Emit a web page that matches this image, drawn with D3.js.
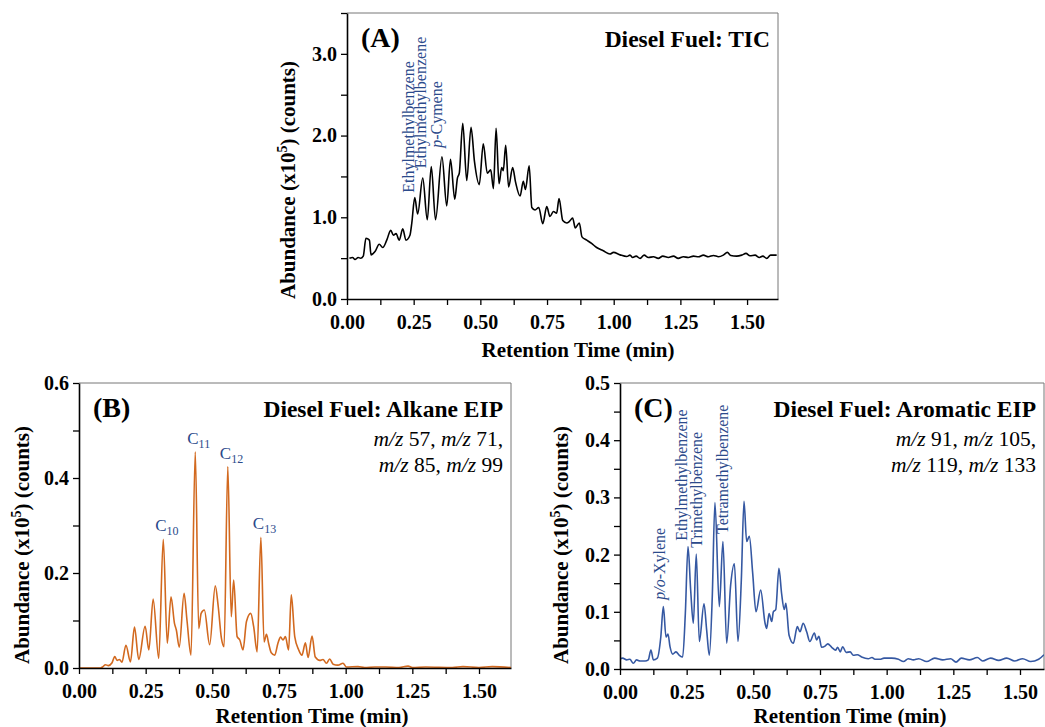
<!DOCTYPE html>
<html>
<head>
<meta charset="utf-8">
<script src="https://cdn.jsdelivr.net/npm/d3@7"></script>
<style>
	body { margin:0; background:#fff; }
	svg text { font-family: "Liberation Serif", "Times New Roman", serif; }
</style>
</head>
<body>
<svg id="chart" width="1045" height="727"></svg>
<script>

//------------------------------------------------------------------
// data (time in min, abundance in x10^5)
//------------------------------------------------------------------
var ticT = [0.009,0.021,0.030,0.042,0.051,0.061,0.071,0.084,0.090,0.105,0.121,0.134,0.149,0.164,0.174,0.184,0.196,0.209,0.221,0.236,0.243,0.254,0.265,0.284,0.301,0.316,0.332,0.356,0.374,0.388,0.404,0.414,0.421,0.434,0.449,0.465,0.478,0.496,0.511,0.526,0.539,0.549,0.559,0.570,0.580,0.586,0.595,0.606,0.621,0.632,0.649,0.661,0.669,0.683,0.693,0.705,0.719,0.734,0.749,0.761,0.774,0.786,0.795,0.809,0.824,0.834,0.846,0.856,0.871,0.881,0.899,0.917,0.936,0.961,0.986,0.999,1.024,1.049,1.061,1.071,1.084,1.099,1.114,1.130,1.149,1.167,1.184,1.205,1.224,1.242,1.261,1.280,1.299,1.318,1.336,1.355,1.374,1.393,1.411,1.426,1.439,1.461,1.480,1.496,1.511,1.530,1.546,1.559,1.574,1.588,1.611];
var ticV = [0.498,0.508,0.484,0.508,0.498,0.525,0.743,0.720,0.540,0.580,0.670,0.630,0.720,0.840,0.780,0.800,0.720,0.860,0.720,0.780,0.930,1.240,1.040,1.480,0.970,1.620,0.970,1.740,1.140,1.710,1.220,1.480,1.540,2.150,1.450,2.100,1.680,1.400,1.900,1.540,1.580,1.350,2.090,1.410,1.610,1.570,1.880,1.370,1.610,1.430,1.260,1.440,1.340,1.630,1.120,1.090,1.120,0.920,1.130,1.010,1.070,1.050,1.230,0.960,0.930,0.950,0.990,0.870,0.930,0.760,0.720,0.680,0.630,0.590,0.550,0.570,0.540,0.520,0.537,0.508,0.525,0.497,0.537,0.508,0.517,0.497,0.525,0.508,0.525,0.497,0.517,0.508,0.525,0.517,0.537,0.517,0.533,0.517,0.537,0.570,0.533,0.525,0.537,0.558,0.529,0.537,0.508,0.525,0.497,0.537,0.537];

var alkT = [0,0.080,0.090,0.099,0.110,0.124,0.134,0.143,0.152,0.161,0.176,0.193,0.208,0.224,0.248,0.262,0.278,0.299,0.316,0.331,0.345,0.358,0.365,0.376,0.394,0.405,0.420,0.436,0.449,0.458,0.470,0.490,0.511,0.522,0.534,0.544,0.558,0.571,0.580,0.593,0.603,0.615,0.628,0.644,0.655,0.668,0.682,0.694,0.703,0.711,0.721,0.734,0.746,0.756,0.765,0.774,0.786,0.796,0.809,0.824,0.836,0.849,0.859,0.874,0.886,0.903,0.915,0.928,0.940,0.953,0.971,0.990,1.003,1.046,1.071,1.109,1.150,1.200,1.234,1.250,1.300,1.400,1.440,1.500,1.550,1.620];
var alkV = [0,0,0.003,0.007,0.005,0.011,0.024,0.016,0.018,0.012,0.048,0.013,0.086,0.018,0.088,0.038,0.145,0.020,0.271,0.052,0.150,0.094,0.080,0.044,0.157,0.100,0.027,0.455,0.083,0.115,0.122,0.049,0.173,0.130,0.063,0.045,0.424,0.108,0.185,0.066,0.059,0.038,0.098,0.115,0.087,0.034,0.275,0.055,0.071,0.052,0.032,0.027,0.052,0.065,0.059,0.066,0.038,0.154,0.066,0.038,0.027,0.053,0.022,0.067,0.023,0.016,0.018,0.010,0.019,0.008,0.006,0.010,0.002,0.003,0.001,0.002,0.002,0.001,0.004,0.001,0.002,0.001,0.003,0.001,0.003,0.001];

var aroT = [0,0.010,0.025,0.037,0.050,0.062,0.075,0.094,0.106,0.116,0.125,0.140,0.153,0.1625,0.1725,0.180,0.1875,0.1975,0.210,0.2225,0.235,0.245,0.255,0.265,0.275,0.286,0.2975,0.315,0.325,0.335,0.346,0.356,0.3725,0.386,0.400,0.415,0.429,0.4425,0.455,0.465,0.475,0.485,0.4975,0.510,0.5275,0.544,0.550,0.559,0.569,0.575,0.584,0.596,0.606,0.616,0.622,0.634,0.650,0.665,0.675,0.687,0.700,0.712,0.729,0.737,0.746,0.756,0.769,0.779,0.794,0.809,0.816,0.826,0.835,0.848,0.863,0.875,0.890,0.906,0.931,0.945,0.956,0.975,0.990,1.019,1.044,1.063,1.081,1.100,1.120,1.150,1.180,1.210,1.240,1.260,1.280,1.310,1.340,1.360,1.390,1.420,1.450,1.480,1.510,1.540,1.570,1.590];
var aroV = [0.018,0.019,0.016,0.017,0.010,0.016,0.014,0.014,0.016,0.033,0.016,0.019,0.056,0.109,0.056,0.061,0.039,0.026,0.030,0.024,0.021,0.097,0.214,0.138,0.080,0.201,0.048,0.114,0.068,0.024,0.126,0.291,0.109,0.223,0.045,0.147,0.184,0.048,0.156,0.293,0.223,0.232,0.168,0.100,0.138,0.080,0.071,0.097,0.083,0.100,0.104,0.176,0.132,0.104,0.115,0.059,0.045,0.074,0.065,0.080,0.065,0.048,0.063,0.051,0.057,0.038,0.040,0.044,0.038,0.033,0.038,0.030,0.039,0.029,0.030,0.024,0.025,0.021,0.018,0.020,0.017,0.017,0.019,0.019,0.017,0.013,0.018,0.016,0.018,0.013,0.019,0.016,0.018,0.012,0.019,0.016,0.020,0.014,0.019,0.015,0.019,0.014,0.018,0.013,0.017,0.025];

// panel texts
var panelTags   = ['(A)','(B)','(C)'];
var panelTitles = ['Diesel Fuel: TIC','Diesel Fuel: Alkane EIP','Diesel Fuel: Aromatic EIP'];
var ionLines    = [[], ['m/z 57, m/z 71,','m/z 85, m/z 99'], ['m/z 91, m/z 105,','m/z 119, m/z 133']];

// peak labels: italic part, plain part, time and abundance at the label foot
var ticLabels = [
	{ it:'',    txt:'Ethylmethylbenzene', t:0.251, v:1.30 },
	{ it:'',    txt:'Ethylmethylbenzene', t:0.296, v:1.60 },
	{ it:'p',   txt:'-Cymene',            t:0.358, v:1.85 },
];
var alkLabels = [
	{ n:'10', t:0.316, v:0.271 },
	{ n:'11', t:0.436, v:0.455 },
	{ n:'12', t:0.558, v:0.424 },
	{ n:'13', t:0.682, v:0.275 },
];
var aroLabels = [
	{ it:'p/o', txt:'-Xylene',            t:0.169, v:0.121 },
	{ it:'',    txt:'Ethylmethylbenzene', t:0.253, v:0.224 },
	{ it:'',    txt:'Trimethylbenzene',   t:0.308, v:0.212 },
	{ it:'',    txt:'Tetramethylbenzene', t:0.405, v:0.236 },
];

var annoColor = '#2b4a8b';

// small helper, like d3-selection-multi
d3.selection.prototype.attrs = function(o)	{
	for (var k in o) this.attr(k, o[k]);
	return this;
};


//------------------------------------------------------------------
// layout
//------------------------------------------------------------------
var panels = [
	{ t:ticT, v:ticV, color:'#000', sw:1.6, left:347, top:13,  width:431, height:286, xMax:1.616, yMax:3.5, yMajor:1.0, yMinor:0.5,  yFmt:'.1f',
		ylab:{ x:295, y:180 }, xlab:{ x:578, y:357 }, tag:0, rot:ticLabels },
	{ t:alkT, v:alkV, color:'#d2691f', sw:1.6, left:79, top:383, width:432, height:285, xMax:1.62, yMax:0.6, yMajor:0.2, yMinor:0.1, yFmt:'.1f',
		ylab:{ x:29, y:545 }, xlab:{ x:312, y:723 }, tag:1, sub:alkLabels },
	{ t:aroT, v:aroV, color:'#3558a2', sw:1.6, left:620, top:383, width:424, height:286, xMax:1.59, yMax:0.5, yMajor:0.1, yMinor:0.05, yFmt:'.1f',
		ylab:{ x:568, y:545 }, xlab:{ x:850, y:723 }, tag:2, rot:aroLabels },
];

var svg = d3.select('#chart');
svg.append('rect').attr('width',1045).attr('height',727).attr('fill','#fff');

panels.forEach(drawPanel);


//------------------------------------------------------------------
//
//------------------------------------------------------------------
function isMajor(d, step)	{
	var r = d/step;
	return Math.abs(r - Math.round(r)) < 1e-6;
}

function drawPanel(p, i)	{

	var x = d3.scaleLinear().domain([0, p.xMax]).range([0, p.width]),
			y = d3.scaleLinear().domain([0, p.yMax]).range([p.height, 0]);

	var g = svg.append('g').attr('transform','translate('+p.left+','+p.top+')');

	// top / right frame
	g.append('path')
		.attrs({ d:'M0,0H'+p.width+'V'+p.height, fill:'none', stroke:'#777', 'stroke-width':1 });

	g.append('clipPath').attr('id','clip'+i)
		.append('rect').attrs({ x:0, y:0, width:p.width, height:p.height });

	var line = d3.line()
		.x(d=>x(d[0]))
		.y(d=>y(d[1]))
		.curve(d3.curveMonotoneX);

	g.append('path')
		.datum(d3.zip(p.t, p.v))
		.attrs({ d:line, fill:'none', stroke:p.color, 'stroke-width':p.sw, 'stroke-linejoin':'round', 'clip-path':'url(#clip'+i+')' });

	// axes
	var xAxis = d3.axisBottom(x)
		.tickValues(d3.range(0, p.xMax+1e-9, 0.125))
		.tickSize(6).tickSizeOuter(0).tickPadding(10)
		.tickFormat(d=> isMajor(d,0.25) ? d3.format('.2f')(d) : '');

	var yAxis = d3.axisLeft(y)
		.tickValues(d3.range(0, p.yMax+1e-9, p.yMinor))
		.tickSize(6).tickSizeOuter(0).tickPadding(4)
		.tickFormat(d=> isMajor(d,p.yMajor) ? d3.format(p.yFmt)(d) : '');

	[ g.append('g').attr('transform','translate(0,'+p.height+')').call(xAxis),
		g.append('g').call(yAxis) ].forEach(sel=>{
			sel.attrs({ 'font-size':20, 'font-weight':'bold', 'font-family':'"Liberation Serif", "Times New Roman", serif' });
			sel.select('.domain').attrs({ stroke:'#000', 'stroke-width':1.6 });
			sel.selectAll('.tick line').attrs({ stroke:'#000', 'stroke-width':1.3 });
			sel.selectAll('.tick text').attr('fill','#000');
		});

	// axis titles
	svg.append('text')
		.attrs({ x:p.xlab.x, y:p.xlab.y, 'text-anchor':'middle', 'font-size':21, 'font-weight':'bold' })
		.text('Retention Time (min)');

	var yl = svg.append('text')
		.attrs({ transform:'translate('+p.ylab.x+','+p.ylab.y+') rotate(-90)', 'text-anchor':'middle', 'font-size':21, 'font-weight':'bold' });
	yl.append('tspan').text('Abundance (x10');
	yl.append('tspan').attrs({ dy:-8, 'font-size':14 }).text('5');
	yl.append('tspan').attrs({ dy:8 }).text(') (counts)');

	// tag and title
	g.append('text')
		.attrs({ x:14, y:34, 'font-size':28, 'font-weight':'bold' })
		.text(panelTags[p.tag]);

	g.append('text')
		.attrs({ x:p.width-8, y:34, 'text-anchor':'end', 'font-size':23.5, 'font-weight':'bold' })
		.text(panelTitles[p.tag]);

	ionLines[p.tag].forEach((s,k)=>{
		var t = g.append('text')
			.attrs({ x:p.width-8, y:63 + k*25.5, 'text-anchor':'end', 'font-size':21.5 });
		s.split(/(m\/z)/).filter(d=>d.length).forEach(part=>{
			t.append('tspan').attr('font-style', part=='m/z' ? 'italic' : 'normal').text(part);
		});
	});

	// rotated compound labels
	(p.rot||[]).forEach(d=>{
		var t = g.append('text')
			.attrs({ transform:'translate('+x(d.t)+','+y(d.v)+') rotate(-90)', 'font-size':16, fill:annoColor });
		if (d.it) t.append('tspan').attr('font-style','italic').text(d.it);
		t.append('tspan').text(d.txt);
	});

	// carbon number labels
	(p.sub||[]).forEach(d=>{
		var t = g.append('text')
			.attrs({ x:x(d.t)-8, y:y(d.v)-8, 'font-size':17, fill:annoColor });
		t.append('tspan').text('C');
		t.append('tspan').attrs({ dy:4, 'font-size':12 }).text(d.n);
	});

}

</script>
</body>
</html>
